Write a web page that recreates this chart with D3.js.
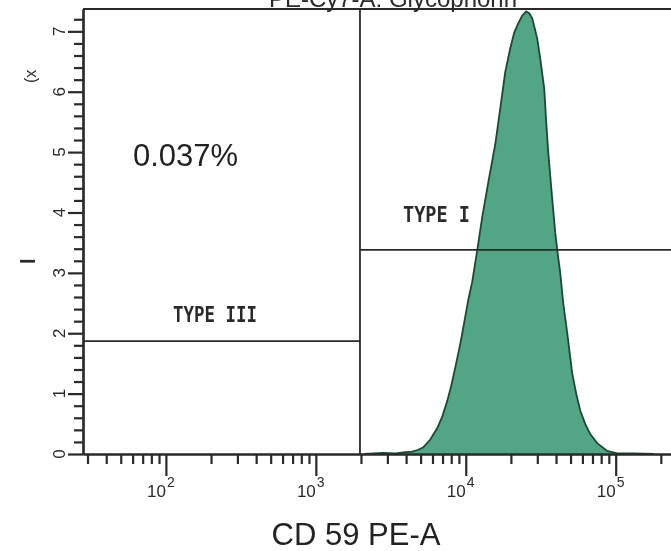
<!DOCTYPE html>
<html>
<head>
<meta charset="utf-8">
<script src="https://cdn.jsdelivr.net/npm/d3@7/dist/d3.min.js"></script>
<style>
  html, body { margin: 0; padding: 0; background: #fff; }
  svg { display: block; }
</style>
</head>
<body>
<svg id="chart" width="671" height="551"></svg>
<script>
// CD59 PE-A fluorescence histogram (counts x 1,000), log intensity axis
const cd59Intensity = [2100, 2800, 3400, 3950, 4400, 4820, 5210, 5800, 6460, 6970,
  7530, 8000, 8510, 9060, 9480, 9930, 10390, 11040, 11940, 12890,
  14130, 15730, 16980, 18340, 19810, 21040, 22390, 23820, 25300, 26490,
  27740, 29970, 31390, 33370, 34400, 35480, 37730, 39510, 40740, 42660,
  44670, 47530, 51310, 54540, 57980, 62620, 67640, 75300, 87740, 102300,
  130000, 180000];
const eventCount = [0, 0.02, 0.01, 0.03, 0.04, 0.07, 0.11, 0.24, 0.43, 0.62,
  0.88, 1.13, 1.43, 1.75, 2.0, 2.28, 2.55, 2.85, 3.38, 3.93,
  4.5, 5.13, 5.72, 6.33, 6.72, 6.98, 7.13, 7.26, 7.33, 7.3,
  7.22, 6.88, 6.55, 6.05, 5.5, 5.0, 4.22, 3.67, 3.38, 3.0,
  2.5, 2.0, 1.33, 1.0, 0.72, 0.5, 0.33, 0.18, 0.05, 0.01,
  0.01, 0];

// Gates
const gateIntensity = 1970;     // vertical divider between CD59-negative and positive
const typeIIILevel = 1.87;      // marker level for the TYPE III region
const typeILevel = 3.38;        // marker level for the TYPE I region
const gatePercent = "0.037%";

// Axis ticks
const xMajorTicks = [100, 1000, 10000, 100000];
const xMajorExponents = ["2", "3", "4", "5"];
const yMajorTicks = [0, 1, 2, 3, 4, 5, 6, 7];

const xMin = 28, xMax = 365000;
const yMax = 7.37;

const svg = d3.select("#chart");
const ink = "#2a2a2a";

// slight softening for the instrument plot
svg.append("defs").append("filter").attr("id", "soft")
  .append("feGaussianBlur").attr("stdDeviation", 0.45);

const x = d3.scaleLog().domain([xMin, xMax]).range([83, 700]);
const y = d3.scaleLinear().domain([0, yMax]).range([454, 9]);

// minor ticks of the log axis
const xMinorTicks = [];
[10, 100, 1000, 10000, 100000].forEach(dec => {
  for (let k = 2; k <= 9; k++) {
    const v = dec * k;
    if (v > xMin && v < xMax && xMajorTicks.indexOf(v) < 0) xMinorTicks.push(v);
  }
});
const yMinorTicks = d3.range(0, yMax, 0.2).map(v => +v.toFixed(1)).filter(v => v % 1 !== 0);

const plot = svg.append("g").attr("filter", "url(#soft)");

// histogram
const area = d3.area()
  .x((d, i) => x(cd59Intensity[i]))
  .y0(y(0))
  .y1(d => y(d))
  .curve(d3.curveLinear);
const line = d3.line()
  .x((d, i) => x(cd59Intensity[i]))
  .y(d => y(d));

plot.append("path")
  .datum(eventCount)
  .attr("d", area)
  .attr("fill", "#52a685");
plot.append("path")
  .datum(eventCount)
  .attr("d", line)
  .attr("fill", "none")
  .attr("stroke", "#1d4a34")
  .attr("stroke-width", 1.8);

// gate lines
plot.append("line")
  .attr("x1", x(gateIntensity)).attr("x2", x(gateIntensity))
  .attr("y1", y(yMax)).attr("y2", y(0))
  .attr("stroke", ink).attr("stroke-width", 1.8);
plot.append("line")
  .attr("x1", x(xMin)).attr("x2", x(gateIntensity))
  .attr("y1", y(typeIIILevel)).attr("y2", y(typeIIILevel))
  .attr("stroke", ink).attr("stroke-width", 1.8);
plot.append("line")
  .attr("x1", x(gateIntensity)).attr("x2", x(xMax))
  .attr("y1", y(typeILevel)).attr("y2", y(typeILevel))
  .attr("stroke", ink).attr("stroke-width", 1.8);

// top frame
plot.append("line")
  .attr("x1", x(xMin)).attr("x2", x(xMax))
  .attr("y1", y(yMax)).attr("y2", y(yMax))
  .attr("stroke", ink).attr("stroke-width", 1.8);

// axes
function styleAxis(g) {
  g.selectAll("path, line").attr("stroke", ink).attr("stroke-width", 2.2);
  g.selectAll("text").remove();
}
plot.append("g").attr("transform", `translate(0,${y(0)})`)
  .call(d3.axisBottom(x).tickValues(xMinorTicks).tickSize(10).tickSizeOuter(0).tickFormat(""))
  .call(styleAxis);
plot.append("g").attr("transform", `translate(0,${y(0)})`)
  .call(d3.axisBottom(x).tickValues(xMajorTicks).tickSize(22).tickSizeOuter(0).tickFormat(""))
  .call(styleAxis);
plot.append("g").attr("transform", `translate(${x(xMin)},0)`)
  .call(d3.axisLeft(y).tickValues(yMinorTicks).tickSize(9).tickSizeOuter(0).tickFormat(""))
  .call(styleAxis);
plot.append("g").attr("transform", `translate(${x(xMin)},0)`)
  .call(d3.axisLeft(y).tickValues(yMajorTicks).tickSize(15).tickSizeOuter(0).tickFormat(""))
  .call(styleAxis);

// x tick labels: 10 with superscript exponent
xMajorTicks.forEach((v, i) => {
  const px = x(v);
  plot.append("text")
    .attr("x", px).attr("y", 497)
    .attr("text-anchor", "end")
    .attr("font-family", "Liberation Sans, Arial, sans-serif")
    .attr("font-size", 17).attr("fill", ink)
    .text("10");
  plot.append("text")
    .attr("x", px + 1).attr("y", 487)
    .attr("font-family", "Liberation Sans, Arial, sans-serif")
    .attr("font-size", 14).attr("fill", ink)
    .text(xMajorExponents[i]);
});

// y tick labels, rotated
yMajorTicks.forEach(v => {
  plot.append("text")
    .attr("transform", `translate(65,${y(v)}) rotate(-90)`)
    .attr("text-anchor", "middle")
    .attr("font-family", "Liberation Sans, Arial, sans-serif")
    .attr("font-size", 17).attr("fill", ink)
    .text(v);
});

// remnants of the vertical axis title
plot.append("text")
  .attr("transform", "translate(36,83) rotate(-90)")
  .attr("font-family", "Liberation Sans, Arial, sans-serif")
  .attr("font-size", 16).attr("fill", ink)
  .text("(x");
plot.append("text")
  .attr("transform", "translate(35,264) rotate(-90)")
  .attr("font-family", "Liberation Sans, Arial, sans-serif")
  .attr("font-size", 20).attr("font-weight", "bold").attr("fill", ink)
  .text("l");

// histogram title (runs off the top edge)
plot.append("text")
  .attr("x", 517).attr("y", 7)
  .attr("text-anchor", "end")
  .attr("font-family", "Liberation Sans, Arial, sans-serif")
  .attr("font-size", 24).attr("fill", ink)
  .text("PE-Cy7-A: Glycophorin");

// region labels
plot.append("text")
  .attr("x", 173).attr("y", 322)
  .attr("font-family", "DejaVu Sans Mono, monospace")
  .attr("font-size", 21).attr("font-weight", "bold").attr("fill", "#2b2b2b")
  .attr("textLength", 84).attr("lengthAdjust", "spacingAndGlyphs")
  .text("TYPE III");
plot.append("text")
  .attr("x", 403).attr("y", 222)
  .attr("font-family", "DejaVu Sans Mono, monospace")
  .attr("font-size", 21).attr("font-weight", "bold").attr("fill", "#2b2b2b")
  .attr("textLength", 67).attr("lengthAdjust", "spacingAndGlyphs")
  .text("TYPE I");

// percentage in the negative gate
svg.append("text")
  .attr("x", 133).attr("y", 166)
  .attr("font-family", "Liberation Sans, Arial, sans-serif")
  .attr("font-size", 31).attr("fill", "#222")
  .text(gatePercent);

// axis title
svg.append("text")
  .attr("x", 356).attr("y", 545)
  .attr("text-anchor", "middle")
  .attr("font-family", "Liberation Sans, Arial, sans-serif")
  .attr("font-size", 31).attr("fill", "#222")
  .text("CD 59 PE-A");
</script>
</body>
</html>
